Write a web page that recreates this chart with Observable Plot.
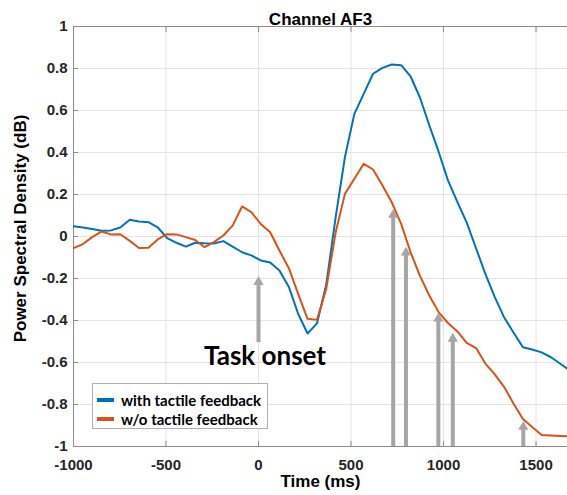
<!DOCTYPE html>
<html><head><meta charset="utf-8">
<script src="https://cdn.jsdelivr.net/npm/d3@7"></script>
<script src="https://cdn.jsdelivr.net/npm/@observablehq/plot@0.6"></script>
<style>
body{margin:0;background:#fff;}
#wrap{position:relative;width:567px;height:495px;overflow:hidden;}
#legend{position:absolute;left:92px;top:383px;width:174px;height:44px;border:1px solid #b0b0b0;background:#fff;font:bold 15px Lato, sans-serif;color:#000;}
.item{position:absolute;left:4px;height:18px;display:flex;align-items:center;white-space:nowrap;}
.sw{width:17px;height:4px;margin-right:7px;}
</style></head><body><div id="wrap"></div>
<script>
const times = [-1000,-949,-899,-848,-798,-747,-696,-646,-595,-545,-494,-443,-393,-342,-292,-241,-190,-140,-89,-39,12,63,113,164,214,265,316,366,417,467,518,569,619,670,720,771,822,872,923,973,1024,1075,1125,1176,1226,1277,1328,1378,1429,1479,1530,1581,1631,1682];
const withTactile = [0.049,0.043,0.036,0.027,0.029,0.043,0.080,0.071,0.068,0.044,-0.008,-0.030,-0.048,-0.030,-0.032,-0.033,-0.022,-0.048,-0.075,-0.090,-0.114,-0.124,-0.162,-0.240,-0.368,-0.462,-0.414,-0.229,0.092,0.378,0.584,0.680,0.775,0.803,0.819,0.816,0.762,0.663,0.530,0.405,0.267,0.164,0.067,-0.057,-0.178,-0.289,-0.386,-0.457,-0.527,-0.538,-0.552,-0.575,-0.606,-0.638];
const withoutTactile = [-0.055,-0.036,-0.003,0.024,0.010,0.011,-0.021,-0.055,-0.054,-0.014,0.011,0.010,-0.003,-0.017,-0.051,-0.027,0.005,0.052,0.143,0.116,0.060,0.020,-0.067,-0.151,-0.273,-0.392,-0.397,-0.249,0.020,0.203,0.275,0.346,0.319,0.243,0.163,0.060,-0.075,-0.186,-0.281,-0.360,-0.412,-0.452,-0.507,-0.531,-0.605,-0.657,-0.717,-0.795,-0.869,-0.907,-0.945,-0.948,-0.950,-0.952];
const seriesNames = ["with tactile feedback", "w/o tactile feedback"];
const seriesColors = ["#0072BD", "#D95319"];
const xTicks = [-1000, -500, 0, 500, 1000, 1500];
const yTicks = [-1, -0.8, -0.6, -0.4, -0.2, 0, 0.2, 0.4, 0.6, 0.8, 1];
const xDomain = [-1000, 1670];
const yDomain = [-1, 1];
const arrowTimes = [0, 728, 797, 972, 1050, 1431];
const arrowTips = [-0.19, 0.13, -0.05, -0.364, -0.46, -0.88];
const arrowBases = [-0.505, -1, -1, -1, -1, -1];
const titleText = "Channel AF3";
const xLabel = "Time (ms)";
const yLabel = "Power Spectral Density (dB)";
const annotationText = "Task onset";
const annotationX = 35;
const annotationY = -0.57;

const rows = [];
times.forEach((t, i) => {
  rows.push({t, v: withTactile[i], s: seriesNames[0]});
});
times.forEach((t, i) => {
  rows.push({t, v: withoutTactile[i], s: seriesNames[1]});
});
const arrows = arrowTimes.map((t, i) => ({t, tip: arrowTips[i], base: arrowBases[i]}));
const fmt = d => String(+d.toFixed(1));
const axisColor = "#8c8c8c";
const gridColor = "#e4e4e4";
const arrowColor = "#a6a6a6";

const chart = Plot.plot({
  width: 567,
  height: 495,
  marginLeft: 73,
  marginRight: 0,
  marginTop: 26,
  marginBottom: 49,
  style: {fontFamily: "'Liberation Sans', Arial, sans-serif", fontSize: "15px", fontWeight: "bold", color: "#262626", background: "#fff"},
  x: {domain: xDomain},
  y: {domain: yDomain},
  color: {domain: seriesNames, range: seriesColors},
  marks: [
    Plot.gridX(xTicks, {stroke: gridColor, strokeOpacity: 1}),
    Plot.gridY(yTicks, {stroke: gridColor, strokeOpacity: 1}),
    Plot.ruleY(yDomain, {stroke: axisColor}),
    Plot.ruleX([xDomain[0]], {stroke: axisColor}),
    Plot.axisX(xTicks, {anchor: "bottom", tickSize: -5, tickPadding: 18, tickFormat: fmt, label: null, stroke: axisColor, fill: "#262626"}),
    Plot.axisX(xTicks, {anchor: "top", tickSize: -5, text: null, label: null, stroke: axisColor}),
    Plot.axisY(yTicks, {anchor: "left", tickSize: -5, tickPadding: 11, tickFormat: fmt, label: null, stroke: axisColor, fill: "#262626"}),
    Plot.line(rows, {x: "t", y: "v", z: "s", stroke: "s", strokeWidth: 2, clip: true}),
    Plot.ruleX(arrows, {x: "t", y1: "tip", y2: "base", stroke: arrowColor, strokeWidth: 4, insetTop: 7}),
    Plot.dot(arrows, {x: "t", y: "tip", symbol: "triangle", r: 3.8, fill: arrowColor, stroke: "none", dy: 5.6}),
    Plot.text([annotationText], {x: annotationX, y: annotationY, text: d => d, fontFamily: "Lato, sans-serif", fontSize: 26, fontWeight: "bold", fill: "#000"}),
    Plot.text([titleText], {frameAnchor: "top", dy: -14, text: d => d, fontSize: 17, fontWeight: "bold", fill: "#000"}),
    Plot.text([xLabel], {frameAnchor: "bottom", dy: 40, text: d => d, fontSize: 17, fontWeight: "bold", fill: "#000"}),
    Plot.text([yLabel], {frameAnchor: "left", textAnchor: "middle", dx: -53, dy: -8, rotate: -90, text: d => d, fontSize: 17, fontWeight: "bold", fill: "#000"})
  ]
});
const wrap = document.getElementById("wrap");
wrap.appendChild(chart);

const legend = document.createElement("div");
legend.id = "legend";
seriesNames.forEach((name, i) => {
  const item = document.createElement("div");
  item.className = "item";
  item.style.top = (7 + i * 19) + "px";
  const sw = document.createElement("div");
  sw.className = "sw";
  sw.style.background = seriesColors[i];
  const label = document.createElement("span");
  label.textContent = name;
  item.appendChild(sw);
  item.appendChild(label);
  legend.appendChild(item);
});
wrap.appendChild(legend);
</script></body></html>
